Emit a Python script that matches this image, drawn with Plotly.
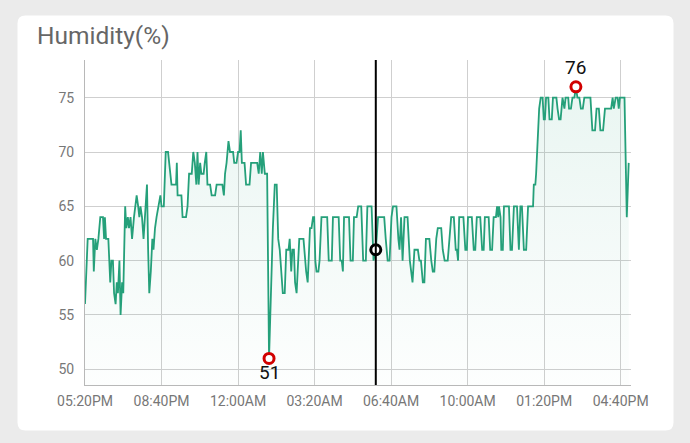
import plotly.graph_objects as go
import pandas as pd
import numpy as np

# ---------------- data ----------------
start_time = "2024-01-01 17:20"
# minutes elapsed since 05:20PM
minutes = [0, 7, 21, 23, 27, 31, 35, 40, 47, 50, 52, 55, 61, 64, 66, 69, 73, 76, 80, 83, 86, 90, 93, 97, 100,
           105, 108, 112, 115, 119, 123, 128, 132, 135, 139, 142, 145, 149, 153, 158, 162, 165, 168, 172, 176,
           179, 183, 187, 192, 197, 200, 206, 211, 217, 220, 226, 233,
           238, 240, 242, 252, 255, 264, 268, 272, 279, 283, 287, 291, 294, 297, 301, 304, 310, 313, 317, 320,
           327, 331, 340, 344, 359, 363, 366, 370, 375, 379, 387, 390, 396, 400, 404, 407, 410, 417, 421, 430,
           434, 450, 454, 458, 462, 465, 470,
           476, 481, 491, 496, 501, 505, 509, 513, 517, 522, 526, 532, 535, 539, 542, 546, 549, 553, 556, 560,
           571, 575, 578, 582, 584, 588, 592, 596, 599, 602, 605, 610, 613, 618, 633, 637, 645, 648, 663, 667,
           671, 674, 677, 690, 694, 700, 703, 710,
           714, 722, 727, 734, 738, 749, 754, 760, 766, 778,
           782, 786, 791, 796, 801, 805, 814, 819, 822, 826, 830, 835, 843, 849, 852, 856, 861, 870, 874, 878,
           883, 887, 891, 900, 905, 909, 913, 918, 922, 931, 935, 940, 948, 954, 957, 964, 969,
           972, 975, 978, 989, 994, 998, 1001, 1011, 1016, 1020, 1024, 1033, 1038, 1042, 1045, 1055, 1059, 1064,
           1068, 1074, 1077, 1080, 1082, 1086, 1088, 1092, 1095, 1108, 1112, 1116, 1121, 1129, 1134, 1138, 1142,
           1147, 1153, 1158, 1171,
           1173, 1177, 1179, 1183, 1187, 1191, 1196, 1199, 1202, 1205, 1211, 1214, 1220, 1223, 1232, 1235, 1239,
           1243, 1248, 1253, 1256, 1263, 1265, 1270, 1274, 1279, 1283, 1287, 1292, 1296, 1301, 1305, 1321, 1326,
           1333, 1337, 1343, 1347, 1354, 1359, 1375, 1379, 1382, 1387, 1392, 1395, 1398, 1410, 1412, 1416, 1421]
humidity = [56, 62, 62, 59, 62, 61, 62, 64, 64, 62, 64, 62, 62, 60, 58, 60, 60, 57, 56, 58, 57, 60, 55, 58, 57,
            65, 63, 64, 63, 64, 62, 64, 65, 66, 65, 64, 65, 64, 62, 65, 67, 61, 57, 59, 62,
            61, 63, 64, 65, 66, 65, 65, 70, 70, 69, 67, 67,
            67, 69, 66, 66, 64, 64, 65, 68, 68, 70, 69, 67, 70, 67, 69, 68, 68, 69, 70, 67,
            67, 66, 66, 67, 67, 66, 68, 69, 71, 70, 70, 69, 69, 70, 70, 72, 69, 69, 67, 67,
            69, 69, 68, 70, 68, 70, 68,
            68, 51, 63, 67, 67, 62, 61, 59, 57, 57, 61, 61, 62, 59, 61, 61, 58, 57, 59, 62,
            62, 60, 59, 58, 60, 63, 63, 64, 64, 60, 59, 59, 60, 64, 64, 60, 60, 64, 64, 60,
            60, 59, 64, 64, 60, 60, 64, 64,
            65, 65, 60, 60, 65, 65, 60, 61, 64, 64,
            64, 62, 60, 60, 64, 65, 65, 62, 61, 64, 60, 64, 64, 60, 59, 58, 61, 61, 60, 60,
            58, 58, 62, 62, 60, 59, 59, 62, 63, 63, 61, 60, 60, 63, 64, 64, 61,
            61, 60, 64, 64, 61, 61, 64, 64, 61, 61, 64, 64, 61, 61, 64, 64, 61, 61,
            64, 64, 65, 64, 65, 64, 61, 61, 65, 65, 61, 61, 65, 65, 61, 65, 65,
            61, 61, 65, 65,
            67, 67, 68, 71, 74, 75, 75, 73, 73, 75, 75, 73, 73, 75, 75, 74, 73,
            73, 75, 74, 75, 75, 74, 74, 75, 75, 76, 75, 75, 74, 74, 75, 75, 72,
            72, 74, 74, 72, 72, 74, 74, 75, 74, 75, 75, 74, 75, 75, 70, 64, 69]
cursor_minute = 760
axis_end_minute = 1427
y_ticks = [50, 55, 60, 65, 70, 75]
y_range = [48.55, 78.47]
title_text = "Humidity(%)"
tick_step_minutes = 200

# ---------------- build ----------------
t0 = pd.Timestamp(start_time)
times = [t0 + pd.Timedelta(minutes=m) for m in minutes]
hum = np.array(humidity)
i_min = int(np.argmin(hum))
i_max = int(np.argmax(hum))
i_cur = int(np.argmin(np.abs(np.array(minutes) - cursor_minute)))

LINE = "#25a07a"
FONT = "Roboto"
W, H = 690, 443
ML, MR, MT, MB = 85, 59, 60, 58
PW, PH = W - ML - MR, H - MT - MB


def px2paper_x(px):
    return (px - ML) / PW


def px2paper_y(py):
    return (H - MB - py) / PH


fig = go.Figure()
fig.add_trace(go.Scatter(
    x=times, y=humidity, mode="lines",
    line=dict(color=LINE, width=1.8),
    fill="tozeroy",
    fillgradient=dict(type="vertical",
                      colorscale=[[0, "rgba(37,160,122,0.01)"], [1, "rgba(37,160,122,0.10)"]],
                      start=y_range[0], stop=max(humidity)),
    hoverinfo="skip", showlegend=False))

# min / max markers
fig.add_trace(go.Scatter(
    x=[times[i_min], times[i_max]], y=[humidity[i_min], humidity[i_max]], mode="markers",
    marker=dict(symbol="circle", size=10, color="white", line=dict(color="#d10000", width=3)),
    hoverinfo="skip", showlegend=False, cliponaxis=False))

# cursor marker
fig.add_trace(go.Scatter(
    x=[times[i_cur]], y=[humidity[i_cur]], mode="markers",
    marker=dict(symbol="circle", size=10, color="white", line=dict(color="black", width=3)),
    hoverinfo="skip", showlegend=False, cliponaxis=False))

annotations = [
    dict(x=times[i_min], y=humidity[i_min], text=str(humidity[i_min]), showarrow=False,
         yshift=-14, font=dict(family=FONT, size=19, color="#111111")),
    dict(x=times[i_max], y=humidity[i_max], text=str(humidity[i_max]), showarrow=False,
         yshift=19, font=dict(family=FONT, size=19, color="#111111")),
    dict(xref="paper", yref="paper", x=px2paper_x(35), y=px2paper_y(35), xanchor="left", yanchor="middle",
         text=title_text, showarrow=False, font=dict(family=FONT, size=24.5, color="#666666")),
]

# white card (rounded rect) in paper coords
cl, cr, ct, cb, r = 17.5, 673.5, 15.5, 430.5, 8


def P(px, py):
    return f"{px2paper_x(px):.5f},{px2paper_y(py):.5f}"


card_path = (f"M {P(cl + r, ct)} L {P(cr - r, ct)} Q {P(cr, ct)} {P(cr, ct + r)} "
             f"L {P(cr, cb - r)} Q {P(cr, cb)} {P(cr - r, cb)} "
             f"L {P(cl + r, cb)} Q {P(cl, cb)} {P(cl, cb - r)} "
             f"L {P(cl, ct + r)} Q {P(cl, ct)} {P(cl + r, ct)} Z")

shapes = [
    dict(type="path", xref="paper", yref="paper", path=card_path, fillcolor="white",
         line=dict(width=0), layer="below"),
    dict(type="line", xref="x", yref="paper", x0=times[i_cur], x1=times[i_cur], y0=0, y1=1,
         line=dict(color="black", width=2), layer="above"),
]

fig.update_layout(
    width=W, height=H,
    margin=dict(l=ML, r=MR, t=MT, b=MB, pad=0),
    paper_bgcolor="#ebebeb", plot_bgcolor="rgba(0,0,0,0)",
    font=dict(family=FONT),
    shapes=shapes, annotations=annotations,
    xaxis=dict(type="date", range=[t0, t0 + pd.Timedelta(minutes=axis_end_minute)],
               tick0=t0, dtick=tick_step_minutes * 60 * 1000, tickformat="%I:%M%p",
               showgrid=True, gridcolor="#cfcfcf", gridwidth=1, zeroline=False,
               showline=True, linecolor="#b8b8b8", linewidth=1, ticks="",
               tickfont=dict(family=FONT, size=14, color="#777777"), ticklabelstandoff=3,
               fixedrange=True),
    yaxis=dict(range=y_range, tickvals=y_ticks, showgrid=True, gridcolor="#cfcfcf", gridwidth=1,
               zeroline=False, showline=True, linecolor="#b8b8b8", linewidth=1, ticks="",
               tickfont=dict(family=FONT, size=14, color="#777777"), ticklabelstandoff=7,
               fixedrange=True),
)

fig.write_html("out.html", config={"displayModeBar": False})
